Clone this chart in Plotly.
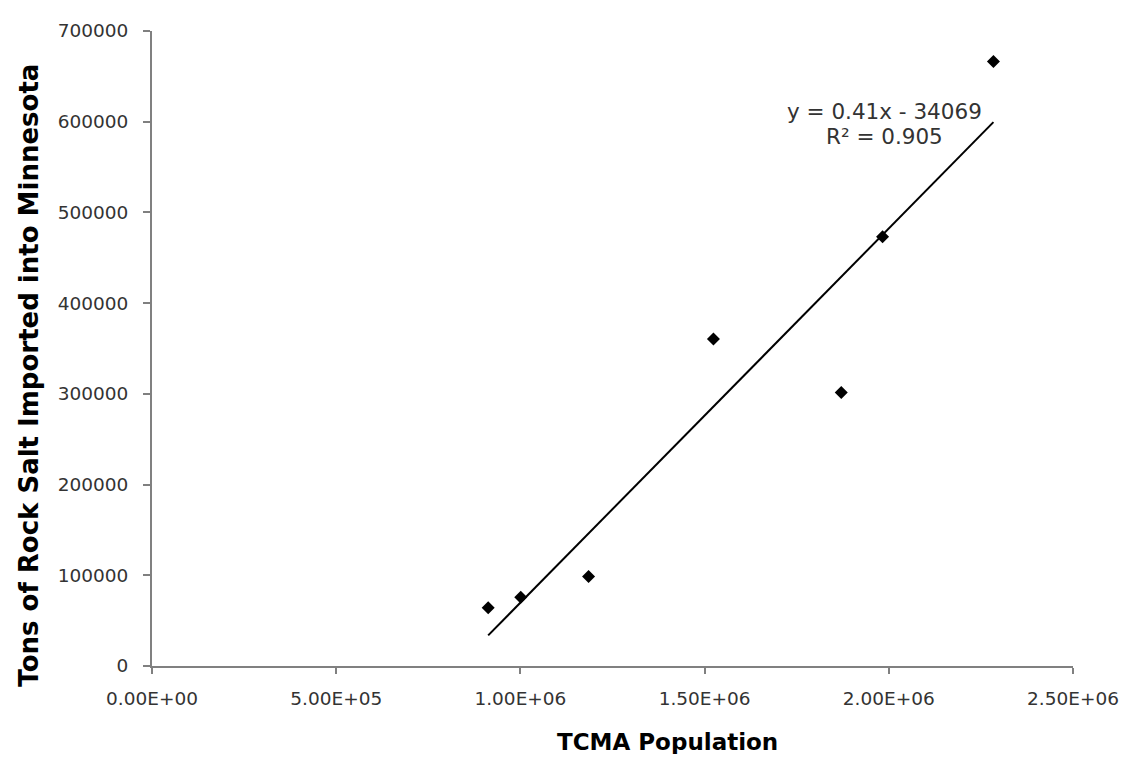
import numpy as np
import plotly.graph_objects as go

# Data
population = [912500, 1001000, 1185000, 1524000, 1871000, 1983000, 2284000]
rock_salt = [64200, 75800, 98600, 360500, 301500, 473100, 666300]

x_tick_vals = [0, 500000, 1000000, 1500000, 2000000, 2500000]
x_tick_text = ["0.00E+00", "5.00E+05", "1.00E+06", "1.50E+06", "2.00E+06", "2.50E+06"]
y_tick_vals = [0, 100000, 200000, 300000, 400000, 500000, 600000, 700000]

equation_line = "y = 0.41x - 34069"
r2_line = "R² = 0.905"

# Linear trendline (least squares)
slope, intercept = np.polyfit(population, rock_salt, 1)
trend_x = [min(population), max(population)]
trend_y = [slope * v + intercept for v in trend_x]

fig = go.Figure()
fig.add_trace(go.Scatter(
    x=trend_x, y=trend_y, mode="lines",
    line=dict(color="black", width=2), showlegend=False, hoverinfo="skip"))
fig.add_trace(go.Scatter(
    x=population, y=rock_salt, mode="markers",
    marker=dict(symbol="diamond", size=10, color="black"), showlegend=False))

font_family = "Verdana, DejaVu Sans, sans-serif"

# page body has an 8px margin: figure is placed at (8, 8)
PX0, PX1, PY0, PY1 = 151.5, 1080.7, 20, 666   # plot area in page pixels
W, H = 1123, 746

fig.update_layout(
    width=W, height=H,
    margin=dict(l=PX0 - 8, r=W - (PX1 - 8), t=PY0 - 8, b=H - (PY1 - 8)),
    paper_bgcolor="white", plot_bgcolor="white",
    font=dict(family=font_family, color="#333333", size=18),
    xaxis=dict(
        range=[0, 2500000], tickvals=x_tick_vals, ticktext=x_tick_text,
        showgrid=False, zeroline=False, showline=True, linecolor="#808080", linewidth=2,
        ticks="outside", ticklen=6, tickcolor="#808080", tickwidth=2,
        ticklabelstandoff=9,
        tickfont=dict(size=18.5, color="#333333"), fixedrange=True,
    ),
    yaxis=dict(
        range=[0, 700000], tickvals=y_tick_vals, tickformat="d",
        showgrid=False, zeroline=False, showline=True, linecolor="#808080", linewidth=2,
        ticks="outside", ticklen=7, tickcolor="#808080", tickwidth=2,
        ticklabelstandoff=11,
        tickfont=dict(size=18.5, color="#333333"), fixedrange=True,
    ),
)

def px_x(p):
    return (p - PX0) / (PX1 - PX0)

def px_y(p):
    return (PY1 - p) / (PY1 - PY0)

fig.add_annotation(
    text="<b>TCMA Population</b>", xref="paper", yref="paper",
    x=px_x(672), y=px_y(743),
    showarrow=False, xanchor="center", yanchor="middle",
    font=dict(size=23, color="black", family=font_family))

fig.add_annotation(
    text="<b>Tons of Rock Salt Imported into Minnesota</b>", xref="paper", yref="paper",
    x=px_x(27), y=px_y(370), textangle=-90,
    showarrow=False, xanchor="center", yanchor="middle",
    font=dict(size=26, color="black", family=font_family))

fig.add_annotation(
    text=equation_line, xref="paper", yref="paper",
    x=px_x(891), y=px_y(102),
    showarrow=False, xanchor="center", yanchor="middle",
    font=dict(size=21.5, color="#333333", family=font_family))

fig.add_annotation(
    text=r2_line, xref="paper", yref="paper",
    x=px_x(891), y=px_y(127),
    showarrow=False, xanchor="center", yanchor="middle",
    font=dict(size=21.5, color="#333333", family=font_family))

fig.write_html("out.html")
